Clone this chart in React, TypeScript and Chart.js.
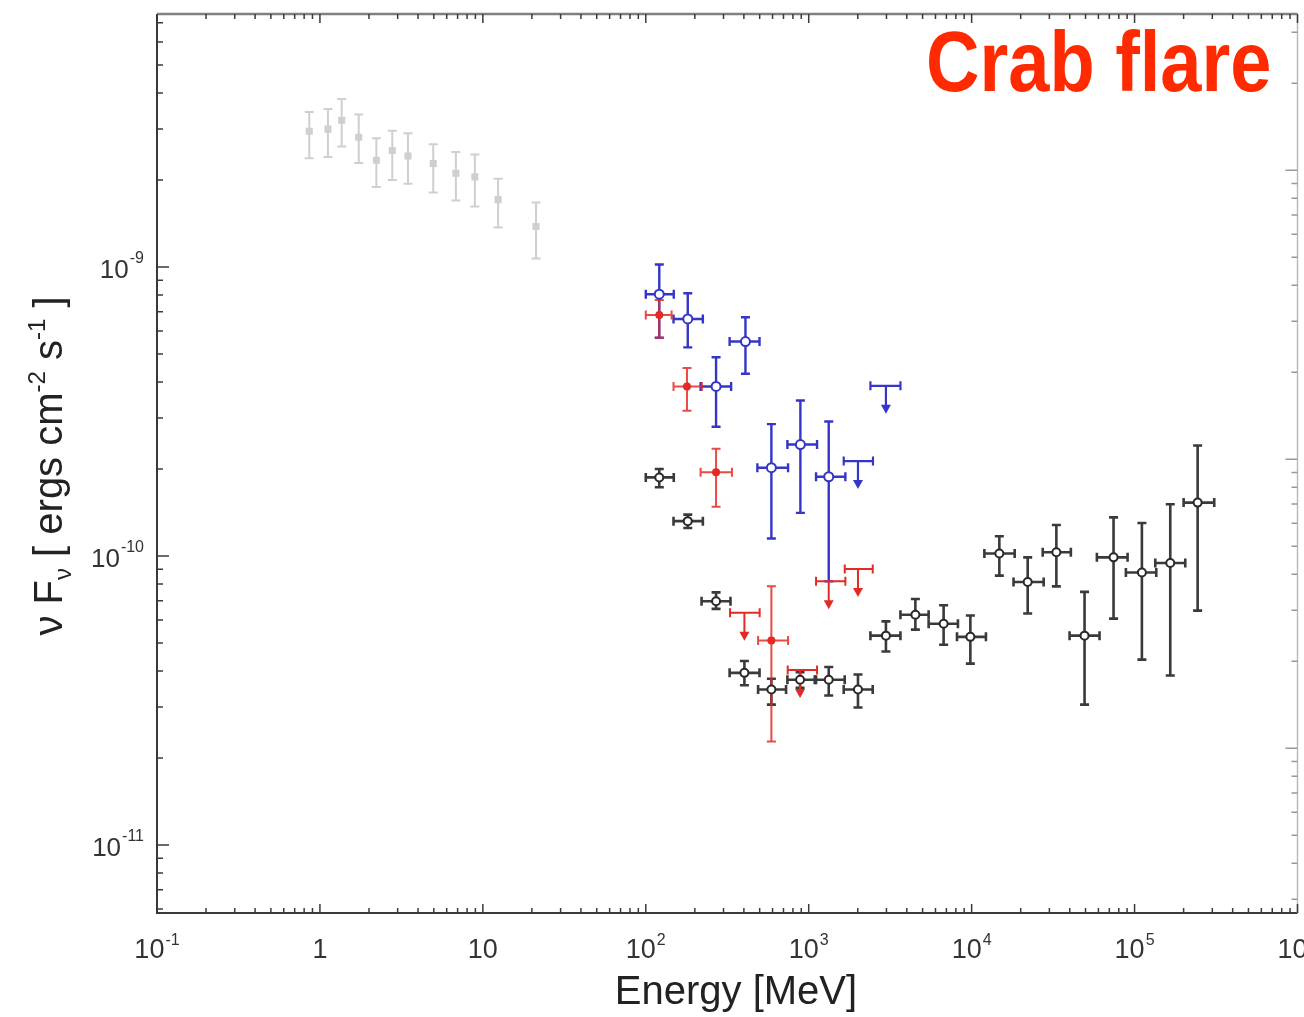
import React, { useEffect, useRef } from 'react';
import { Chart, registerables } from 'chart.js';
Chart.register(...registerables);

const FONT = '"Liberation Sans", Arial, Helvetica, sans-serif';

// ---------- axis ranges ----------
const X_MIN = 0.1;
const X_MAX = 1e6;
const Y_MIN = 5.815e-12;
const Y_MAX = 7.506e-9;
const Y2_FACTOR = 4.624; // right-hand axis (other unit)

const xLabelExps = [-1, 0, 1, 2, 3, 4, 5, 6];
const yLabelExps = [-11, -10, -9];

// ---------- grey (archival, low energy) ----------
const greyE = [0.86, 1.12, 1.36, 1.73, 2.22, 2.78, 3.47, 4.96, 6.83, 8.93, 12.4, 21.2];
const greyF = [2.95e-9, 3.0e-9, 3.22e-9, 2.81e-9, 2.34e-9, 2.53e-9, 2.42e-9, 2.28e-9, 2.11e-9, 2.05e-9, 1.71e-9, 1.38e-9];
const greyFlo = [2.38e-9, 2.4e-9, 2.61e-9, 2.29e-9, 1.89e-9, 2.0e-9, 1.94e-9, 1.81e-9, 1.7e-9, 1.62e-9, 1.37e-9, 1.07e-9];
const greyFhi = [3.44e-9, 3.52e-9, 3.81e-9, 3.37e-9, 2.79e-9, 2.96e-9, 2.9e-9, 2.66e-9, 2.5e-9, 2.45e-9, 2.02e-9, 1.67e-9];

// ---------- black (average) ----------
const blackE = [121, 181, 270, 403, 590, 885, 1327, 2006, 2978, 4515, 6730, 9820, 14790, 22080, 33110, 49320, 74300, 110900, 165600, 243800];
const blackElo = [100, 148, 220, 327, 489, 740, 1109, 1640, 2392, 3656, 5445, 8130, 11970, 18080, 27300, 39900, 58710, 88460, 134000, 200000];
const blackEhi = [148.5, 224, 331, 499, 726, 1089, 1663, 2471, 3656, 5445, 8240, 12240, 18370, 27670, 40640, 60950, 90590, 135900, 204700, 308300];
const blackF = [1.87e-10, 1.32e-10, 6.97e-11, 3.94e-11, 3.45e-11, 3.73e-11, 3.73e-11, 3.45e-11, 5.3e-11, 6.26e-11, 5.83e-11, 5.25e-11, 1.02e-10, 8.13e-11, 1.03e-10, 5.3e-11, 9.89e-11, 8.77e-11, 9.46e-11, 1.53e-10];
const blackFlo = [1.73e-10, 1.25e-10, 6.56e-11, 3.57e-11, 3.06e-11, 3.5e-11, 3.29e-11, 2.99e-11, 4.67e-11, 5.56e-11, 4.93e-11, 4.24e-11, 8.55e-11, 6.32e-11, 7.85e-11, 3.06e-11, 6.07e-11, 4.38e-11, 3.86e-11, 6.47e-11];
const blackFhi = [2.0e-10, 1.39e-10, 7.48e-11, 4.33e-11, 3.76e-11, 3.96e-11, 4.13e-11, 3.89e-11, 5.94e-11, 7.1e-11, 6.75e-11, 6.22e-11, 1.17e-10, 9.89e-11, 1.28e-10, 7.51e-11, 1.36e-10, 1.3e-10, 1.51e-10, 2.41e-10];

// ---------- blue (flare) ----------
const blueE = [121, 181, 409, 270, 590, 889, 1327];
const blueElo = [100, 148, 327, 217, 484, 740, 1109];
const blueEhi = [148.5, 224, 499, 334, 747, 1125, 1679];
const blueF = [8.05e-10, 6.61e-10, 5.52e-10, 3.86e-10, 2.02e-10, 2.43e-10, 1.88e-10];
const blueFlo = [5.69e-10, 5.27e-10, 4.27e-10, 2.8e-10, 1.15e-10, 1.41e-10, 8.17e-11];
const blueFhi = [1.02e-9, 8.11e-10, 6.7e-10, 4.87e-10, 2.86e-10, 3.45e-10, 2.92e-10];
const blueUlE = [2978, 2006];
const blueUlElo = [2392, 1640];
const blueUlEhi = [3656, 2480];
const blueUlF = [3.88e-10, 2.13e-10];

// ---------- red (flare) ----------
const redE = [121, 179, 270, 590];
const redElo = [100, 148, 217, 489];
const redEhi = [144, 221, 338, 747];
const redF = [6.82e-10, 3.86e-10, 1.95e-10, 5.1e-11];
const redFlo = [5.69e-10, 3.18e-10, 1.48e-10, 2.28e-11];
const redFhi = [7.69e-10, 4.47e-10, 2.35e-10, 7.85e-11];
const redUlE = [403, 885, 1327, 2006];
const redUlElo = [329, 743, 1109, 1664];
const redUlEhi = [500, 1125, 1679, 2471];
const redUlF = [6.36e-11, 4.03e-11, 8.17e-11, 9.02e-11];

const pts = (xs: number[], ys: number[]) => xs.map((x, i) => ({ x, y: ys[i] }));

function logTicks(min: number, max: number) {
  const out: { v: number; major: boolean }[] = [];
  for (let k = Math.floor(Math.log10(min)) - 1; k <= Math.ceil(Math.log10(max)); k++) {
    for (let m = 1; m <= 9; m++) {
      const v = m * Math.pow(10, k);
      if (v >= min * 0.9999 && v <= max * 1.0001) out.push({ v, major: m === 1 });
    }
  }
  return out;
}

function supText(ctx: CanvasRenderingContext2D, x: number, y: number, base: string, sup: string,
  size: number, supSize: number, raise: number, align: 'center' | 'right') {
  ctx.font = `${size}px ${FONT}`;
  const w1 = ctx.measureText(base).width;
  ctx.font = `${supSize}px ${FONT}`;
  const w2 = sup ? ctx.measureText(sup).width + 1 : 0;
  const tot = w1 + w2;
  const x0 = align === 'center' ? x - tot / 2 : x - tot;
  ctx.textAlign = 'left';
  ctx.textBaseline = 'alphabetic';
  ctx.font = `${size}px ${FONT}`;
  ctx.fillText(base, x0, y);
  if (sup) {
    ctx.font = `${supSize}px ${FONT}`;
    ctx.fillText(sup, x0 + w1 + 1, y - raise);
  }
}

const errPlugin = {
  id: 'errbars',
  beforeDatasetsDraw(chart: any) {
    const ctx: CanvasRenderingContext2D = chart.ctx;
    const xs = chart.scales.x;
    const ys = chart.scales.y;
    chart.data.datasets.forEach((ds: any) => {
      const e = ds.err;
      if (!e) return;
      ctx.save();
      ctx.strokeStyle = e.color;
      ctx.fillStyle = e.color;
      ctx.lineWidth = e.width;
      const c = e.cap / 2;
      ds.data.forEach((p: any, i: number) => {
        const px = xs.getPixelForValue(p.x);
        const py = ys.getPixelForValue(p.y);
        ctx.beginPath();
        if (e.ylo) {
          const a = ys.getPixelForValue(e.ylo[i]);
          const b = ys.getPixelForValue(e.yhi[i]);
          ctx.moveTo(px, a); ctx.lineTo(px, b);
          ctx.moveTo(px - c, a); ctx.lineTo(px + c, a);
          ctx.moveTo(px - c, b); ctx.lineTo(px + c, b);
        }
        if (e.xlo) {
          const a = xs.getPixelForValue(e.xlo[i]);
          const b = xs.getPixelForValue(e.xhi[i]);
          ctx.moveTo(a, py); ctx.lineTo(b, py);
          ctx.moveTo(a, py - c); ctx.lineTo(a, py + c);
          ctx.moveTo(b, py - c); ctx.lineTo(b, py + c);
        }
        if (e.ul) {
          const L = 28;
          ctx.moveTo(px, py); ctx.lineTo(px, py + L - 6);
        }
        ctx.stroke();
        if (e.ul) {
          const L = 28;
          ctx.beginPath();
          ctx.moveTo(px - 5, py + L - 9);
          ctx.lineTo(px + 5, py + L - 9);
          ctx.lineTo(px, py + L);
          ctx.closePath();
          ctx.fill();
        }
      });
      ctx.restore();
    });
  },
};

const axesPlugin = {
  id: 'axesframe',
  afterDraw(chart: any) {
    const ctx: CanvasRenderingContext2D = chart.ctx;
    const { left, right, top, bottom } = chart.chartArea;
    const xs = chart.scales.x;
    const ys = chart.scales.y;
    const y2 = chart.scales.y2;
    ctx.save();
    // frame
    ctx.lineWidth = 2;
    ctx.strokeStyle = '#3a3a3a';
    ctx.beginPath();
    ctx.moveTo(left, top); ctx.lineTo(left, bottom); ctx.lineTo(right, bottom);
    ctx.stroke();
    ctx.strokeStyle = '#808080';
    ctx.lineWidth = 2.5;
    ctx.beginPath();
    ctx.moveTo(left, top); ctx.lineTo(right, top);
    ctx.stroke();
    ctx.strokeStyle = '#bbb';
    ctx.lineWidth = 1.5;
    ctx.beginPath();
    ctx.moveTo(right, top); ctx.lineTo(right, bottom);
    ctx.stroke();

    // ticks
    ctx.lineWidth = 1.5;
    ctx.strokeStyle = '#3a3a3a';
    ctx.beginPath();
    logTicks(X_MIN, X_MAX).forEach((t) => {
      const px = xs.getPixelForValue(t.v);
      const L = t.major ? 9 : 5;
      ctx.moveTo(px, bottom); ctx.lineTo(px, bottom - L);
      ctx.moveTo(px, top); ctx.lineTo(px, top + L);
    });
    logTicks(Y_MIN, Y_MAX).forEach((t) => {
      const py = ys.getPixelForValue(t.v);
      const L = t.major ? 12 : 6;
      ctx.moveTo(left, py); ctx.lineTo(left + L, py);
    });
    ctx.stroke();
    ctx.strokeStyle = '#999';
    ctx.beginPath();
    logTicks(Y_MIN * Y2_FACTOR, Y_MAX * Y2_FACTOR).forEach((t) => {
      const py = y2.getPixelForValue(t.v);
      const L = t.major ? 12 : 6;
      ctx.moveTo(right, py); ctx.lineTo(right - L, py);
    });
    ctx.stroke();

    // tick labels
    ctx.fillStyle = '#333';
    xLabelExps.forEach((k) => {
      const px = xs.getPixelForValue(Math.pow(10, k));
      if (k === 0) supText(ctx, px, bottom + 45, '1', '', 27, 16, 13, 'center');
      else if (k === 1) supText(ctx, px, bottom + 45, '10', '', 27, 16, 13, 'center');
      else supText(ctx, px, bottom + 45, '10', String(k), 27, 16, 13, 'center');
    });
    yLabelExps.forEach((k) => {
      const py = ys.getPixelForValue(Math.pow(10, k));
      supText(ctx, left - 13, py + 11, '10', String(k), 26, 16, 15, 'right');
    });

    // axis titles
    ctx.fillStyle = '#222';
    ctx.font = `40px ${FONT}`;
    ctx.textAlign = 'center';
    ctx.textBaseline = 'alphabetic';
    ctx.fillText('Energy [MeV]', 736, 1004);

    const segs = [
      { t: 'ν F', s: 40, dy: 0 },
      { t: 'ν', s: 24, dy: 9 },
      { t: ' [ ergs cm', s: 40, dy: 0 },
      { t: '-2', s: 24, dy: -17 },
      { t: ' s', s: 40, dy: 0 },
      { t: '-1', s: 24, dy: -17 },
      { t: ' ]', s: 40, dy: 0 },
    ];
    let tot = 0;
    const widths = segs.map((sg) => {
      ctx.font = `${sg.s}px ${FONT}`;
      const w = ctx.measureText(sg.t).width;
      tot += w;
      return w;
    });
    ctx.save();
    ctx.translate(62, 466);
    ctx.rotate(-Math.PI / 2);
    ctx.textAlign = 'left';
    let cx = -tot / 2;
    segs.forEach((sg, i) => {
      ctx.font = `${sg.s}px ${FONT}`;
      ctx.fillText(sg.t, cx, sg.dy);
      cx += widths[i];
    });
    ctx.restore();

    // title
    ctx.save();
    ctx.fillStyle = '#ff2a00';
    ctx.font = `bold 74px ${FONT}`;
    ctx.textAlign = 'left';
    ctx.translate(926, 91);
    ctx.scale(1, 1.15);
    ctx.fillText('Crab flare', 0, 0);
    ctx.restore();

    ctx.restore();
  },
};

export default function App() {
  const ref = useRef<HTMLCanvasElement | null>(null);
  useEffect(() => {
    if (!ref.current) return;
    const BLUE = '#3535c8';
    const RED = '#e42a24';
    const chart = new Chart(ref.current, {
      type: 'scatter',
      data: {
        datasets: [
          {
            label: 'archival',
            data: pts(greyE, greyF),
            pointStyle: 'rect',
            pointRadius: 5,
            backgroundColor: '#cfcfcf',
            borderWidth: 0,
            err: { ylo: greyFlo, yhi: greyFhi, color: '#cfcfcf', width: 2, cap: 9 },
          } as any,
          {
            label: 'blue UL',
            data: pts(blueUlE, blueUlF),
            pointRadius: 0,
            err: { xlo: blueUlElo, xhi: blueUlEhi, ul: true, color: BLUE, width: 2.2, cap: 9 },
          } as any,
          {
            label: 'blue',
            data: pts(blueE, blueF),
            pointStyle: 'circle',
            pointRadius: 4.5,
            backgroundColor: '#ffffff',
            borderColor: BLUE,
            borderWidth: 2,
            err: { xlo: blueElo, xhi: blueEhi, ylo: blueFlo, yhi: blueFhi, color: BLUE, width: 2.4, cap: 9 },
          } as any,
          {
            label: 'black',
            data: pts(blackE, blackF),
            pointStyle: 'circle',
            pointRadius: 4,
            backgroundColor: '#ffffff',
            borderColor: '#2a2a2a',
            borderWidth: 2,
            err: { xlo: blackElo, xhi: blackEhi, ylo: blackFlo, yhi: blackFhi, color: '#3a3a3a', width: 2.6, cap: 9 },
          } as any,
          {
            label: 'red UL',
            data: pts(redUlE, redUlF),
            pointRadius: 0,
            err: { xlo: redUlElo, xhi: redUlEhi, ul: true, color: RED, width: 2, cap: 9 },
          } as any,
          {
            label: 'red',
            data: pts(redE, redF),
            pointStyle: 'circle',
            pointRadius: 4,
            backgroundColor: RED,
            borderColor: RED,
            borderWidth: 0,
            err: { xlo: redElo, xhi: redEhi, ylo: redFlo, yhi: redFhi, color: 'rgba(228,42,36,0.85)', width: 2, cap: 9 },
          } as any,
        ],
      },
      options: {
        responsive: false,
        animation: false,
        layout: { padding: { left: 157, top: 14, right: 6, bottom: 104 } },
        plugins: { legend: { display: false }, tooltip: { enabled: false } },
        scales: {
          x: { type: 'logarithmic', min: X_MIN, max: X_MAX, display: false },
          y: { type: 'logarithmic', min: Y_MIN, max: Y_MAX, display: false },
          y2: { type: 'logarithmic', position: 'right', min: Y_MIN * Y2_FACTOR, max: Y_MAX * Y2_FACTOR, display: false },
        },
      },
      plugins: [errPlugin, axesPlugin],
    } as any);
    return () => chart.destroy();
  }, []);
  return (
    <div style={{ position: 'fixed', left: 0, top: 0, width: 1304, height: 1017, background: '#fff' }}>
      <canvas ref={ref} width={1304} height={1017} style={{ display: 'block' }} />
    </div>
  );
}
